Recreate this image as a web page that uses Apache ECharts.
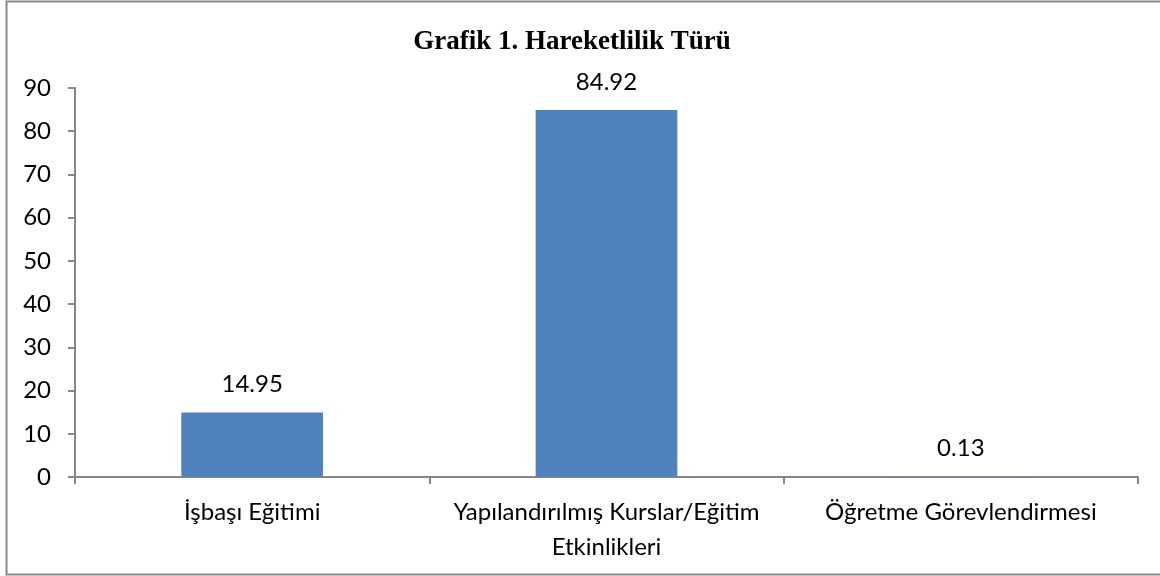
<!DOCTYPE html>
<html>
<head>
<meta charset="utf-8">
<script src="https://cdn.jsdelivr.net/npm/echarts@6/dist/echarts.min.js"></script>
<style>
html, body { margin: 0; padding: 0; background: #fff; }
#main { width: 1160px; height: 576px; }
</style>
</head>
<body>
<div id="main"></div>
<script>
// veriler
var categories = ['İşbaşı Eğitimi', 'Yapılandırılmış Kurslar/Eğitim Etkinlikleri', 'Öğretme Görevlendirmesi'];
var values = [14.95, 84.92, 0.13];
var yTicks = [0, 10, 20, 30, 40, 50, 60, 70, 80, 90];

var myChart = echarts.init(document.getElementById('main'));
var axisGray = '#868686';
var labelFont = 'Lato';

var option = {
    animation: false,
    title: {
        text: 'Grafik 1. Hareketlilik Türü',
        left: 567,
        textAlign: 'center',
        top: 24,
        textStyle: {
            fontFamily: 'Liberation Serif',
            fontWeight: 'bold',
            fontSize: 27,
            color: '#000'
        }
    },
    graphic: [{
        type: 'rect',
        shape: { x: 6.5, y: 1.5, width: 1200, height: 573 },
        style: { fill: 'none', stroke: '#8a8a8a', lineWidth: 2 },
        silent: true
    }],
    grid: {
        left: 75,
        right: 22,
        top: 88,
        bottom: 99
    },
    xAxis: {
        type: 'category',
        data: categories,
        axisLine: { lineStyle: { color: axisGray, width: 2 } },
        axisTick: { show: true, length: 7, lineStyle: { color: axisGray, width: 2 } },
        axisLabel: {
            color: '#000',
            fontFamily: labelFont,
            fontSize: 24,
            margin: 18,
            lineHeight: 35,
            interval: 0,
            // uzun etiketi son boşlukta iki satıra böl
            formatter: function (v) {
                if (v.length > 30) {
                    var i = v.lastIndexOf(' ');
                    return v.slice(0, i) + '\n' + v.slice(i + 1);
                }
                return v;
            }
        }
    },
    yAxis: {
        type: 'value',
        min: yTicks[0],
        max: yTicks[yTicks.length - 1],
        interval: 10,
        splitLine: { show: false },
        axisLine: { show: true, lineStyle: { color: axisGray, width: 2 } },
        axisTick: { show: true, length: 7, lineStyle: { color: axisGray, width: 2 } },
        axisLabel: {
            color: '#000',
            fontFamily: labelFont,
            fontSize: 24,
            margin: 24
        }
    },
    series: [{
        type: 'bar',
        data: values,
        barWidth: '40%',
        itemStyle: { color: '#4F81BD' },
        label: {
            show: true,
            position: 'top',
            distance: 16,
            color: '#000',
            fontFamily: labelFont,
            fontSize: 24,
            formatter: function (p) { return p.value.toFixed(2); }
        }
    }]
};

myChart.setOption(option);
</script>
</body>
</html>
